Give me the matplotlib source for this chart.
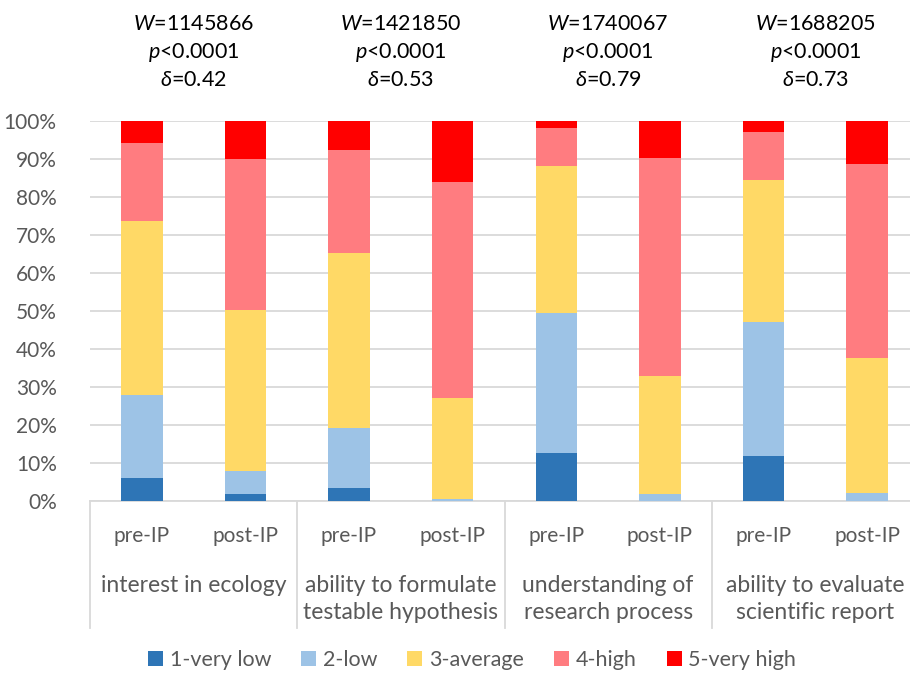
import matplotlib
matplotlib.use('Agg')
import matplotlib.pyplot as plt
import numpy as np

# 数据（百分比）
groups = ['pre-IP', 'post-IP'] * 4
categories = ['interest in ecology', 'ability to formulate\ntestable hypothesis',
              'understanding of\nresearch process', 'ability to evaluate\nscientific report']
stats = ['$W$=1145866\n$p$<0.0001\n$\\delta$=0.42',
         '$W$=1421850\n$p$<0.0001\n$\\delta$=0.53',
         '$W$=1740067\n$p$<0.0001\n$\\delta$=0.79',
         '$W$=1688205\n$p$<0.0001\n$\\delta$=0.73']
levels = ['1-very low', '2-low', '3-average', '4-high', '5-very high']
very_low = [6.0, 1.8, 3.3, 0.0, 12.7, 0.0, 11.8, 0.0]
low = [21.8, 6.1, 15.8, 0.4, 36.9, 1.8, 35.4, 2.1]
average = [45.9, 42.3, 46.1, 26.8, 38.5, 31.2, 37.3, 35.6]
high = [20.6, 39.7, 27.1, 56.7, 10.0, 57.2, 12.7, 51.0]
very_high = [5.7, 10.1, 7.7, 16.1, 1.9, 9.8, 2.8, 11.3]
colors = ['#2E75B6', '#9DC3E6', '#FFD966', '#FF7C80', '#FF0000']

plt.rcParams['font.family'] = ['Lato', 'DejaVu Sans']
plt.rcParams['mathtext.fontset'] = 'custom'
plt.rcParams['mathtext.rm'] = 'Lato'
plt.rcParams['mathtext.it'] = 'Lato:italic'

fig = plt.figure(figsize=(9.1, 6.73), dpi=100)
ax = fig.add_axes([90 / 910, 172 / 673, 829 / 910, 380 / 673])

x = np.arange(len(groups))
bottom = np.zeros(len(groups))
for name, vals, c in zip(levels, [very_low, low, average, high, very_high], colors):
    ax.bar(x, vals, 0.4, bottom=bottom, color=c, label=name, zorder=3)
    bottom += np.array(vals)

ax.set_xlim(-0.5, len(groups) - 0.5)
ax.set_ylim(0, 100)
ax.set_yticks(range(0, 101, 10))
ax.set_yticklabels([f'{v}%' for v in range(0, 101, 10)])
ax.yaxis.grid(True, color='#D9D9D9', linewidth=1.3, zorder=0)
for s in ['left', 'right', 'top']:
    ax.spines[s].set_visible(False)
ax.spines['bottom'].set_color('#D9D9D9')
ax.spines['bottom'].set_linewidth(1.3)
ax.tick_params(axis='y', length=0, pad=24, labelsize=15, labelcolor='#595959')
ax.tick_params(axis='x', length=0, pad=18, labelsize=15, labelcolor='#595959')
ax.set_xticks(x)
ax.set_xticklabels(groups)

# 分组分隔线和分组名
tr = ax.get_xaxis_transform()
for b in np.arange(-0.5, len(groups), 2):
    ax.plot([b, b], [0, -127 / 380], transform=tr, color='#D9D9D9',
            linewidth=1.3, clip_on=False)
for i, cat in enumerate(categories):
    ax.text(2 * i + 0.5, -74 / 380, cat, transform=tr, ha='center', va='top',
            fontsize=16.5, color='#595959', linespacing=1.35)
    ax.text(2 * i + 0.5, 1 + 69 / 380, stats[i], transform=tr, ha='center',
            va='center', fontsize=15.5, color='black', linespacing=1.4)

ax.legend(loc='center', bbox_to_anchor=(472 / 910, 1 - 660 / 673),
          bbox_transform=fig.transFigure, ncol=5, frameon=False, fontsize=15.5,
          handlelength=0.7, handleheight=0.7, handletextpad=0.3,
          columnspacing=1.4, labelcolor='#595959')

plt.savefig('out.png', dpi=100)
